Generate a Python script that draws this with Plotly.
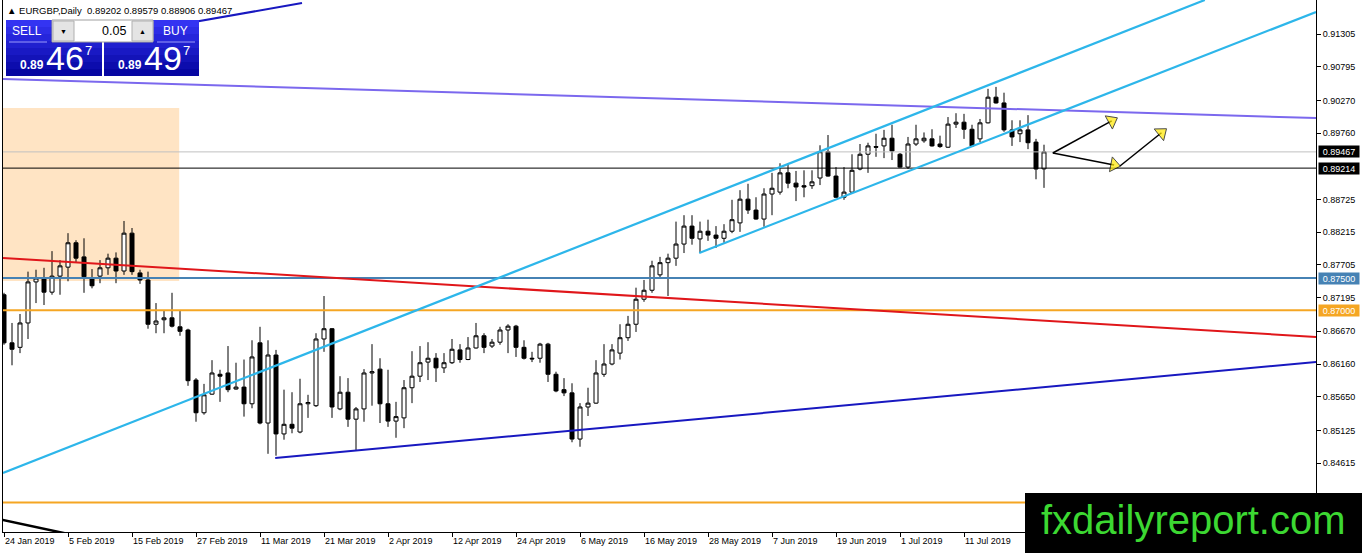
import pandas as pd
import plotly.graph_objects as go

# EURGBP daily bars, 24 Jan 2019 - 25 Jul 2019
dates = pd.bdate_range("2019-01-24", periods=131)

opens = [
    .8724, .8649, .8642, .8680, .8744, .8749, .8728, .8753, .8767, .8805,
    .8783, .8750, .8753, .8766, .8781, .8761, .8820, .8758, .8747, .8678,
    .8685, .8688, .8674, .8669, .8591, .8540, .8569, .8600, .8602, .8577,
    .8580, .8554, .8649, .8524, .8630, .8507, .8522, .8510, .8554, .8551,
    .8655, .8671, .8546, .8572, .8530, .8546, .8602, .8608, .8554, .8527,
    .8532, .8579, .8597, .8619, .8625, .8610, .8618, .8638, .8623, .8641,
    .8660, .8644, .8650, .8669, .8675, .8642, .8625, .8625, .8647, .8600,
    .8576, .8571, .8499, .8549, .8555, .8600, .8616, .8633, .8657, .8678,
    .8717, .8731, .8755, .8774, .8781, .8803, .8831, .8811, .8823, .8817,
    .8812, .8823, .8836, .8873, .8856, .8842, .8881, .8884, .8914, .8898,
    .8894, .8894, .8906, .8947, .8909, .8876, .8884, .8920, .8943, .8955,
    .8956, .8968, .8943, .8923, .8959, .8964, .8967, .8959, .8954, .8990,
    .8993, .8982, .8967, .8992, .9032, .9023, .8981, .8975, .8981, .8962,
    .89202,
]
highs = [
    .8727, .8680, .8694, .8760, .8763, .8766, .8792, .8778, .8820, .8809,
    .8812, .8764, .8778, .8788, .8790, .8839, .8828, .8763, .8760, .8711,
    .8700, .8727, .8699, .8671, .8594, .8585, .8622, .8607, .8644, .8618,
    .8623, .8653, .8674, .8653, .8638, .8576, .8572, .8593, .8568, .8664,
    .8722, .8672, .8597, .8594, .8549, .8608, .8647, .8625, .8607, .8557,
    .8591, .8636, .8644, .8650, .8633, .8633, .8655, .8647, .8658, .8680,
    .8664, .8655, .8674, .8678, .8677, .8653, .8635, .8649, .8649, .8604,
    .8594, .8586, .8555, .8579, .8622, .8647, .8647, .8678, .8691, .8735,
    .8747, .8777, .8783, .8788, .8838, .8848, .8848, .8838, .8841, .8831,
    .8834, .8872, .8887, .8897, .8876, .8890, .8914, .8929, .8929, .8917,
    .8918, .8918, .8957, .8973, .8923, .8923, .8943, .8959, .8961, .8975,
    .8981, .8989, .8945, .8970, .8989, .8977, .8982, .8972, .9001, .9007,
    .9006, .8989, .8998, .9045, .9048, .9039, .8996, .8996, .9004, .8967,
    .89579,
]
lows = [
    .8646, .8614, .8633, .8655, .8711, .8708, .8724, .8724, .8745, .8774,
    .8727, .8734, .8742, .8755, .8742, .8755, .8755, .8741, .8671, .8664,
    .8664, .8673, .8660, .8582, .8526, .8537, .8568, .8557, .8572, .8576,
    .8534, .8547, .8522, .8476, .8473, .8498, .8508, .8508, .8532, .8549,
    .8635, .8532, .8544, .8518, .8482, .8526, .8551, .8524, .8518, .8501,
    .8516, .8555, .8588, .8591, .8588, .8602, .8616, .8618, .8622, .8640,
    .8633, .8641, .8646, .8633, .8627, .8623, .8619, .8618, .8588, .8572,
    .8566, .8494, .8487, .8535, .8554, .8596, .8614, .8623, .8652, .8666,
    .8713, .8727, .8749, .8722, .8769, .8789, .8802, .8789, .8808, .8797,
    .8805, .8820, .8822, .8850, .8841, .8830, .8848, .8880, .8890, .8870,
    .8876, .8889, .8895, .8908, .8875, .8872, .8883, .8918, .8914, .8939,
    .8937, .8934, .8922, .8920, .8956, .8961, .8955, .8953, .8953, .8984,
    .8967, .8955, .8962, .8991, .9022, .8978, .8956, .8962, .8951, .8904,
    .88906,
]
closes = [
    .8649, .8639, .8680, .8744, .8750, .8728, .8753, .8769, .8805, .8781,
    .8752, .8738, .8766, .8781, .8761, .8820, .8760, .8747, .8678, .8683,
    .8688, .8675, .8667, .8590, .8540, .8568, .8602, .8597, .8576, .8580,
    .8554, .8627, .8524, .8630, .8507, .8522, .8516, .8554, .8556, .8655,
    .8671, .8549, .8572, .8530, .8546, .8602, .8604, .8554, .8527, .8534,
    .8579, .8597, .8618, .8625, .8610, .8618, .8639, .8623, .8641, .8660,
    .8642, .8650, .8669, .8675, .8642, .8625, .8624, .8647, .8600, .8574,
    .8571, .8499, .8549, .8555, .8602, .8616, .8638, .8657, .8678, .8717,
    .8731, .8769, .8774, .8781, .8803, .8831, .8812, .8823, .8817, .8812,
    .8823, .8841, .8873, .8856, .8842, .8881, .8890, .8914, .8898, .8892,
    .8892, .8900, .8947, .8909, .8876, .8884, .8918, .8943, .8956, .8954,
    .8968, .8948, .8923, .8959, .8967, .8968, .8956, .8955, .8990, .8993,
    .8982, .8956, .8992, .9032, .9023, .8981, .8970, .8981, .8961, .8920,
    .89467,
]

price_ticks = [0.91305, 0.90795, 0.90270, 0.89760, 0.88725, 0.88215, 0.87705,
               0.87195, 0.86670, 0.86160, 0.85650, 0.85125, 0.84615, 0.84105]
date_tick_step = 8
last_date_tick = 120  # later labels sit under the watermark

# drawn objects: (bar index, price) anchors
line_cyan_a = ([-0.125, 150.1], [0.84461, 0.91835])
line_cyan_b = ([86.9, 164.0], [0.87891, 0.91648])
line_red = ([-0.125, 164.0], [0.87813, 0.86581])
line_purple = ([-0.125, 164.0], [0.90603, 0.89995])
line_navy = ([33.9, 164.0], [0.84695, 0.86191])
line_navy_top = ([20.0, 37.25], [0.91409, 0.91788])
line_black_low = ([-1.0, 8.0], [0.83751, 0.83511])
level_steel = 0.87500
level_orange = 0.87000
level_orange_low = 0.84000
level_bid = 0.89467
level_black = 0.89214
zone_bars = (-5.0, 21.9)
zone_prices = (0.87454, 0.90151)
arrow_start = (131.1, 0.89450)
arrow_heads = [(138.46, 0.89950), (138.76, 0.89264)]
arrow2_start = (139.5, 0.89247)
arrow2_head = (144.68, 0.89765)

X_RANGE = [-0.125, 164.0]
Y_RANGE = [0.83541, 0.91835]
FONT = "Liberation Sans"

x_idx = list(range(len(dates)))

fig = go.Figure()


def add_line(xs, ys, color, width, dash="solid"):
    fig.add_trace(go.Scatter(x=xs, y=ys, mode="lines", hoverinfo="skip",
                             line=dict(color=color, width=width, dash=dash)))


def add_level(price, color, width):
    add_line([X_RANGE[0] - 2, X_RANGE[1] + 2], [price, price], color, width)


add_level(level_bid, "#C0C0C0", 1)
add_level(level_black, "black", 1)
add_level(level_steel, "#4682B4", 2)
add_level(level_orange, "#F5A623", 2)
add_level(level_orange_low, "#F5A623", 2)
add_line(*line_purple, "#7B68EE", 2)
add_line(*line_red, "#E0161A", 2)
add_line(*line_navy, "#1818C0", 2)
add_line(*line_navy_top, "#1818C0", 2)
add_line(*line_cyan_a, "#2DB6EA", 2.2)
add_line(*line_cyan_b, "#2DB6EA", 2.2)
add_line(*line_black_low, "black", 2.5)

fig.add_trace(go.Candlestick(
    x=x_idx, open=opens, high=highs, low=lows, close=closes,
    increasing=dict(line=dict(color="black", width=1), fillcolor="white"),
    decreasing=dict(line=dict(color="black", width=1), fillcolor="black"),
    whiskerwidth=0, hoverinfo="skip",
))

# arrows
arrow_marker = dict(symbol="triangle-up", size=[0, 13], angleref="previous",
                    color="#FFE800", line=dict(color="black", width=1))
for hx, hy in arrow_heads:
    fig.add_trace(go.Scatter(
        x=[arrow_start[0], hx], y=[arrow_start[1], hy], mode="lines+markers",
        hoverinfo="skip", line=dict(color="black", width=1.5), marker=arrow_marker))
fig.add_trace(go.Scatter(
    x=[arrow2_start[0], arrow2_head[0]], y=[arrow2_start[1], arrow2_head[1]],
    mode="lines+markers", hoverinfo="skip", line=dict(color="black", width=1.5),
    marker=arrow_marker))


def px(xp):
    return (xp - 3) / 1313


def py(yp):
    return 1 - yp / 532


shapes = [dict(type="rect", xref="x", yref="y", layer="below",
               x0=zone_bars[0], x1=zone_bars[1], y0=zone_prices[0], y1=zone_prices[1],
               fillcolor="#FFE4C4", line_width=0)]

# trade panel
n_bands = 8
for x0, x1 in [(6, 102), (104, 199)]:
    for i in range(n_bands):
        t = i / (n_bands - 1)
        c = (int(52 - 46 * t), int(52 - 46 * t), int(242 - 80 * t))
        shapes.append(dict(type="rect", xref="paper", yref="paper", layer="above",
                           x0=px(x0), x1=px(x1), y0=py(20 + 7 * (i + 1)), y1=py(20 + 7 * i),
                           fillcolor="rgb(%d,%d,%d)" % c, line_width=0))
for x0, x1 in [(9, 47), (157, 195)]:
    shapes.append(dict(type="line", xref="paper", yref="paper", layer="above",
                       x0=px(x0), x1=px(x1), y0=py(42), y1=py(42),
                       line=dict(color="#9C9CFF", width=1)))
shapes.append(dict(type="rect", xref="paper", yref="paper", layer="above",
                   x0=px(52), x1=px(153), y0=py(42), y1=py(20),
                   fillcolor="white", line=dict(color="#A0A0A0", width=1)))
for x0, x1 in [(53, 74), (132, 153)]:
    shapes.append(dict(type="rect", xref="paper", yref="paper", layer="above",
                       x0=px(x0), x1=px(x1), y0=py(41), y1=py(21),
                       fillcolor="#E4E4E4", line=dict(color="#B0B0B0", width=1)))
# watermark box
shapes.append(dict(type="rect", xref="paper", yref="paper", layer="above",
                   x0=px(1025), x1=px(1362), y0=py(553), y1=py(493),
                   fillcolor="black", line_width=0))

annotations = []


def text(x, y, s, size, color="white", anchor="center", bold=False, family=FONT):
    annotations.append(dict(xref="paper", yref="paper", x=px(x), y=py(y), text=s,
                            showarrow=False, xanchor=anchor, yanchor="middle",
                            font=dict(family=family, size=size, color=color,
                                      weight="bold" if bold else "normal")))


text(5, 11, "▲ EURGBP,Daily  0.89202 0.89579 0.88906 0.89467", 9.5, "black", "left")
text(27, 31, "SELL", 12)
text(175, 31, "BUY", 12)
text(128, 31, "0.05", 12.5, "black", "right")
text(63.5, 31, "▼", 7, "black")
text(142.5, 31, "▲", 7, "black")
text(32, 65, "0.89", 12, bold=True)
text(65, 58, "46", 34)
text(88, 50, "7", 13)
text(130, 65, "0.89", 12, bold=True)
text(163, 58, "49", 34)
text(186, 50, "7", 13)
text(1193, 520, "fxdailyreport.com", 40, "#3CD832")

# price boxes on axis
for price, bg in [(level_bid, "black"), (level_black, "black"),
                  (level_steel, "#4682B4"), (level_orange, "#F5A623")]:
    annotations.append(dict(xref="paper", yref="y", x=px(1318), y=price, text="%.5f" % price,
                            showarrow=False, xanchor="left", yanchor="middle",
                            bgcolor=bg, width=40, height=11, borderpad=0,
                            font=dict(family=FONT, size=9, color="white")))

tick_idx = list(range(0, last_date_tick + 1, date_tick_step))
fig.update_layout(
    width=1362, height=553,
    margin=dict(l=3, r=46, t=0, b=21),
    paper_bgcolor="white", plot_bgcolor="white",
    showlegend=False, hovermode=False,
    boxgap=0.5, boxgroupgap=0,
    shapes=shapes, annotations=annotations,
    xaxis=dict(range=X_RANGE, showgrid=False, zeroline=False,
               tickvals=tick_idx,
               ticktext=["%d %s" % (dates[i].day, dates[i].strftime("%b %Y")) for i in tick_idx],
               ticks="outside", ticklen=4, tickcolor="black",
               ticklabelposition="outside right",
               showline=True, linecolor="black", linewidth=1,
               tickfont=dict(family=FONT, size=9, color="black"),
               rangeslider=dict(visible=False)),
    yaxis=dict(range=Y_RANGE, side="right", showgrid=False, zeroline=False,
               tickvals=price_ticks, ticktext=["%.5f" % v for v in price_ticks],
               ticks="outside", ticklen=4, tickcolor="black",
               showline=True, mirror=True, linecolor="black", linewidth=1,
               tickfont=dict(family=FONT, size=9, color="black")),
)

fig.write_html("out.html", config={"displayModeBar": False},
               post_script="document.body.style.margin='0';document.body.style.overflow='hidden';")
